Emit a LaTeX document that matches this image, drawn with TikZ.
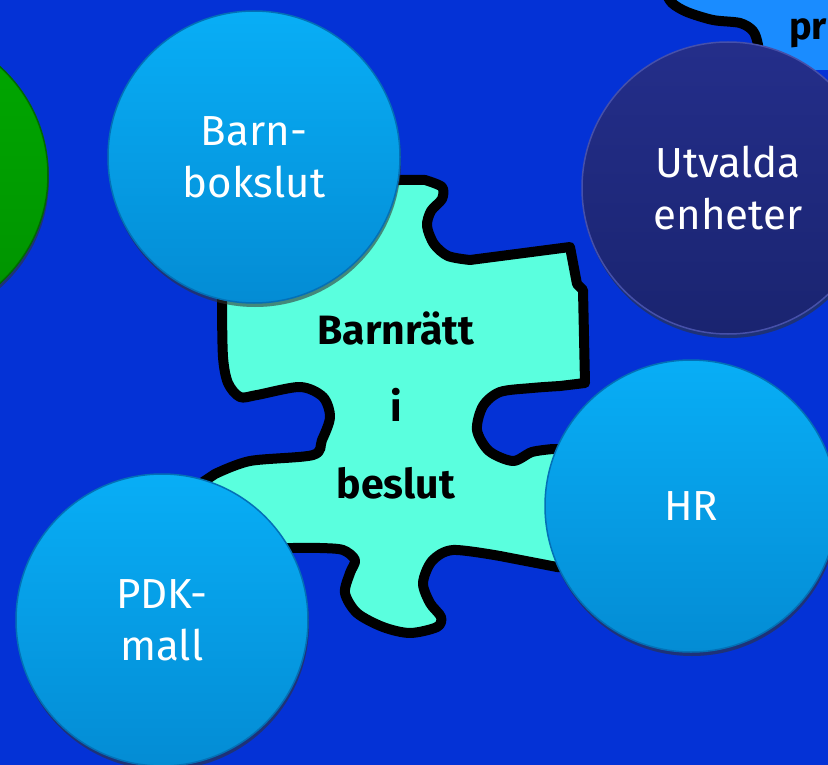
\documentclass[tikz,border=0pt]{standalone}
\usepackage{fontspec}
\setmainfont{Fira Sans}
\usetikzlibrary{shadows}

\definecolor{bgblue}{RGB}{4,50,214}
\definecolor{cornerblue}{RGB}{26,140,255}
\definecolor{piecefill}{RGB}{90,255,222}
\definecolor{ballTop}{RGB}{8,174,246}
\definecolor{ballBot}{RGB}{4,140,212}
\definecolor{ballRim}{RGB}{3,112,182}
\definecolor{navyTop}{RGB}{36,46,138}
\definecolor{navyBot}{RGB}{26,36,112}
\definecolor{navyRim}{RGB}{70,80,170}
\definecolor{greenTop}{RGB}{0,168,0}
\definecolor{greenBot}{RGB}{0,146,0}
\definecolor{greenRim}{RGB}{0,105,0}

\tikzset{
  ball/.style={circle, minimum size=292pt, inner sep=0pt, align=center,
    text=white, line width=1.5pt,
    font=\fontsize{42}{52}\selectfont,
    drop shadow={opacity=0.35, shadow xshift=1pt, shadow yshift=-4pt, fill=black!80}},
  blueball/.style={ball, top color=ballTop, bottom color=ballBot, draw=ballRim},
  navyball/.style={ball, top color=navyTop, bottom color=navyBot, draw=navyRim},
  greenball/.style={ball, top color=greenTop, bottom color=greenBot, draw=greenRim},
  piece/.style={draw=black, fill=piecefill, line width=10pt, line join=round}
}

\begin{document}
\begin{tikzpicture}[x=1pt,y=-1pt]

  \clip (0,0) rectangle (828,765);
  \fill[bgblue] (0,0) rectangle (828,765);

  % piece in the corner
  \fill[cornerblue] plot[smooth] coordinates {(664,-10) (672,3) (687,12) (713,20) (740,23) (753,31) (758,45) (760,70)}
    -- (840,70) -- (840,-10) -- cycle;
  \draw[line width=10pt] plot[smooth] coordinates {(664,-10) (672,3) (687,12) (713,20) (740,23) (753,31) (758,45) (760,70)};
  \node[anchor=base west, inner sep=0pt, font=\bfseries\fontsize{38}{38}\selectfont] (pr) at (789,40) {pr};

  % middle piece
  \draw[piece] (225,200) -- (400,180)
    -- plot[smooth] coordinates {(425,180) (442,187) (442,199) (431,211) (427,226) (434,244) (448,256) (470,260)}
    -- (570,247) -- (577,284) -- (583,290) -- (585,383)
    -- plot[smooth] coordinates {(560,386) (532,388) (500,392) (483,406) (477,430) (489,451) (513,461) (532,452) (553,449)}
    -- (650,450) -- (650,568) -- (557,567)
    -- plot[smooth] coordinates {(500,556) (453,550) (432,561) (423,583) (430,603) (441,617) (437,627) (410,633) (383,627) (357,613) (345,593) (350,573) (355,560) (343,550) (320,548) (293,548)}
    -- (200,548) -- (200,484)
    -- plot[smooth] coordinates {(215,474) (250,461) (313,455) (322,440) (330,417) (323,397) (300,387) (257,395) (240,397) (228,383) (223,357) (222,303)}
    -- (225,200) -- cycle;
  \node[align=center, font=\bfseries\fontsize{41}{77}\selectfont] (barnratt) at (396,405) {Barnrätt\\i\\beslut};

  % circles
  \begin{scope}[every node/.style={ball}]
    \node[greenball] (green) at (-98,175) {};
    \node[blueball] (bokslut) at (254,157) {Barn-\\bokslut};
    \node[navyball] (utvalda) at (728,188) {Utvalda\\enheter};
    \node[blueball] (hr) at (691,506) {HR};
    \node[blueball] (pdk) at (162,620) {PDK-\\mall};
  \end{scope}

\end{tikzpicture}
\end{document}
